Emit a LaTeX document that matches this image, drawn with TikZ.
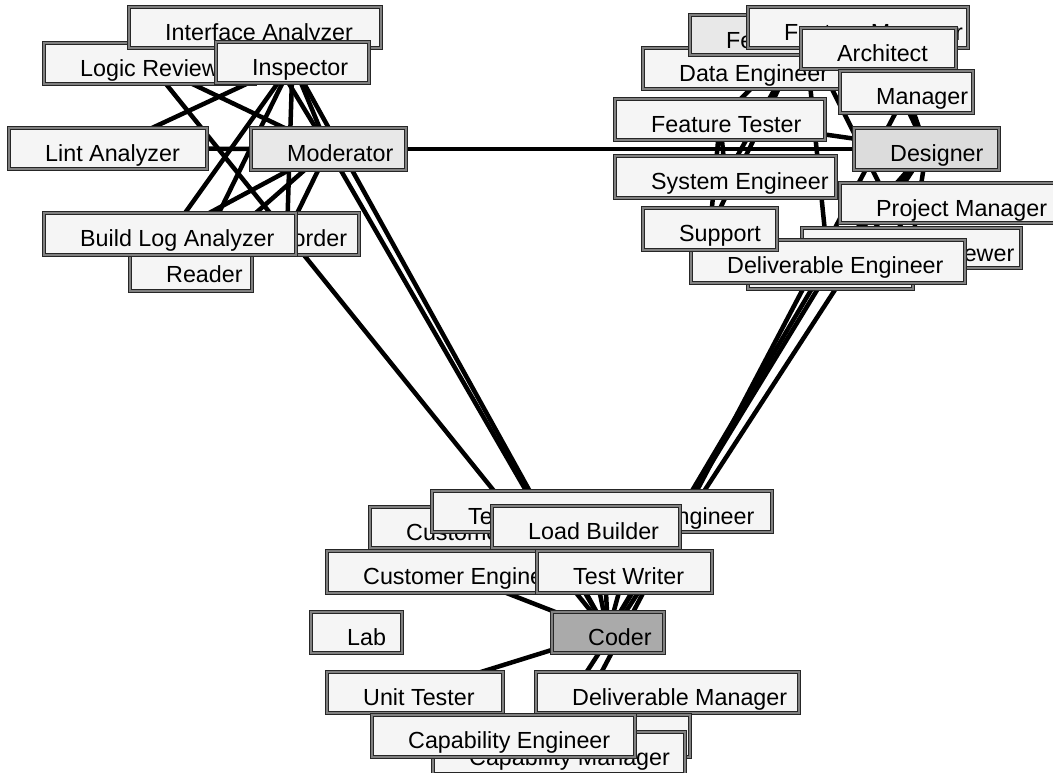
\documentclass[tikz,border=0pt]{standalone}
\usepackage{fontspec}
\setmainfont{Liberation Sans}
\usetikzlibrary{fit}
\definecolor{boxfill}{RGB}{245,245,245}
\definecolor{modfill}{RGB}{232,232,232}
\definecolor{desfill}{RGB}{220,220,220}
\definecolor{codfill}{RGB}{170,170,170}
\pgfdeclarelayer{bgzero}
\pgfdeclarelayer{background}
\pgfsetlayers{bgzero,background,main}
\tikzset{
  box/.style={draw=black!85, line width=1.2pt, double=black!50, double distance=1.1pt, rectangle, inner sep=0pt},
  lbl/.style={anchor=base west, inner sep=0pt, font=\fontsize{23.3}{28}\selectfont},
  link/.style={line width=4.5pt, black},
}
\newcommand{\rolebox}[7]{%
  \node[box, fill=#6, fit={(#2,#3) (#4,#5)}] (#1) {};
  \node[lbl] (#1-t) at ({#2+36},{#3+33.5}) {#7};
}
\newcommand{\blankbox}[6]{%
  \node[box, fill=#6, fit={(#2,#3) (#4,#5)}] (#1) {};
}
\begin{document}
\begin{tikzpicture}[x=1pt,y=-1pt]
\useasboundingbox (0,0) rectangle (1053,773);
\begin{pgfonlayer}{bgzero}
\fill[white] (0,0) rectangle (1053,773);
\end{pgfonlayer}
% left cluster
\rolebox{LR}{44}{43}{255}{84}{boxfill}{Logic Reviewer}
\rolebox{IA}{129}{7}{381}{48}{boxfill}{Interface Analyzer}
\rolebox{IN}{216}{42}{369}{83}{boxfill}{Inspector}
\rolebox{LA}{9}{128}{207}{169}{boxfill}{Lint Analyzer}
\rolebox{MO}{251}{128}{406}{170}{modfill}{Moderator}
\rolebox{RE}{130}{249}{252}{291}{boxfill}{Reader}
\rolebox{RC}{215}{213}{359}{255}{boxfill}{Recorder}
\rolebox{BL}{44}{213}{296}{255}{boxfill}{Build Log Analyzer}
% right cluster
\rolebox{DE}{643}{48}{850}{89}{boxfill}{Data Engineer}
\rolebox{FE}{690}{15}{920}{55}{modfill}{Feature Engineer}
\rolebox{FM}{748}{7}{968}{48}{boxfill}{Feature Manager}
\rolebox{AR}{801}{28}{956}{69}{boxfill}{Architect}
\rolebox{MA}{840}{71}{973}{113}{boxfill}{Manager}
\rolebox{FT}{615}{99}{825}{140}{boxfill}{Feature Tester}
\rolebox{SE}{615}{156}{836}{198}{boxfill}{System Engineer}
\rolebox{DS}{854}{128}{999}{170}{desfill}{Designer}
\rolebox{PM}{840}{183}{1056}{223}{boxfill}{Project Manager}
\rolebox{DR}{802}{228}{1021}{268}{boxfill}{Design Reviewer}
\blankbox{IG}{748}{247}{913}{289}{boxfill}
\rolebox{DV}{691}{240}{965}{283}{boxfill}{Deliverable Engineer}
\rolebox{SU}{643}{208}{777}{250}{boxfill}{Support}
% bottom cluster
\rolebox{CA}{370}{507}{630}{548}{boxfill}{Customer Advocate}
\rolebox{TI}{432}{491}{772}{532}{boxfill}{Test Infrastructure Engineer}
\rolebox{LB}{492}{506}{680}{548}{boxfill}{Load Builder}
\rolebox{CE}{327}{551}{578}{593}{boxfill}{Customer Engineer}
\rolebox{TW}{537}{551}{712}{593}{boxfill}{Test Writer}
\rolebox{LAB}{311}{612}{402}{653}{boxfill}{Lab}
\rolebox{CO}{552}{612}{664}{653}{codfill}{Coder}
\rolebox{UT}{327}{672}{503}{713}{boxfill}{Unit Tester}
\rolebox{DM}{536}{672}{799}{713}{boxfill}{Deliverable Manager}
\blankbox{CT}{400}{715}{690}{757}{boxfill}
\rolebox{CM}{433}{732}{685}{774}{boxfill}{Capability Manager}
\rolebox{CN}{372}{715}{635}{757}{boxfill}{Capability Engineer}
\begin{pgfonlayer}{background}
\foreach \a/\b in {LR/MO, LR/RC, IN/LA, LA/MO, IA/MO, IN/MO, IN/BL, IN/RE, IN/RC,
  MO/BL, MO/RE, MO/RC, MO/DS, MO/CO, IN/CO, RC/CO,
  FT/DS, MA/DS, AR/DS, DS/DV, DS/IG, DS/DR, DS/CT, MA/CM, DV/CO, IG/CO,
  FE/FT, FE/SE, FE/SU, FE/DV, FE/DR, FT/SU, FT/SE,
  CE/CO, UT/CO, LB/CO, TW/CO, TI/CO}
  \draw[link] (\a.center) -- (\b.center);
\end{pgfonlayer}
\end{tikzpicture}
\end{document}
